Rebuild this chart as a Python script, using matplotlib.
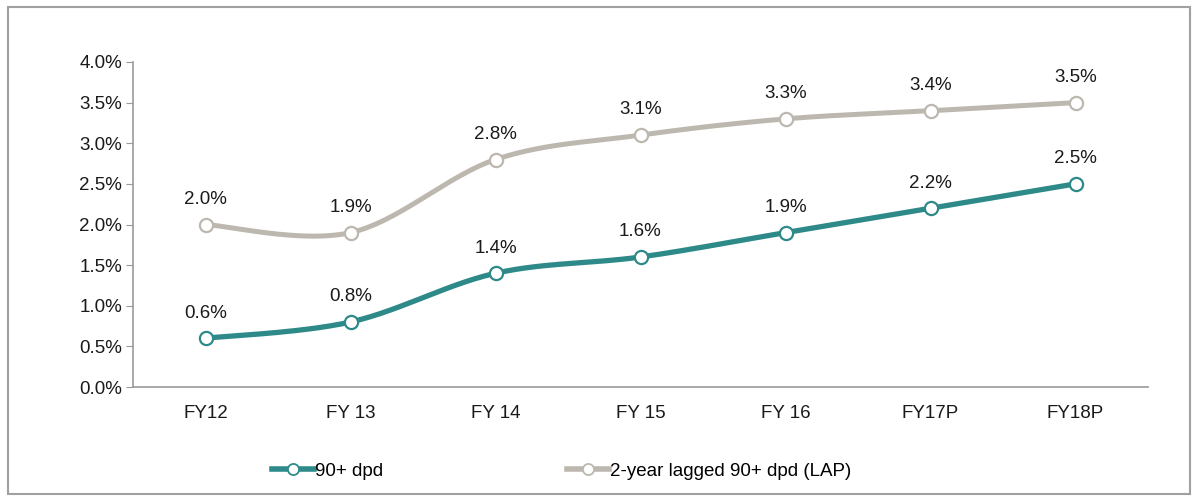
import numpy as np
import matplotlib
matplotlib.use("Agg")
import matplotlib.pyplot as plt
from matplotlib.patches import Rectangle
from matplotlib.lines import Line2D

plt.rcParams['font.family'] = ['Liberation Sans', 'DejaVu Sans']

categories = ["FY12", "FY 13", "FY 14", "FY 15", "FY 16", "FY17P", "FY18P"]
dpd90 = [0.6, 0.8, 1.4, 1.6, 1.9, 2.2, 2.5]
lagged = [2.0, 1.9, 2.8, 3.1, 3.3, 3.4, 3.5]
yticks = [0.0, 0.5, 1.0, 1.5, 2.0, 2.5, 3.0, 3.5, 4.0]

TEAL = "#2E8A89"
GREY = "#BDB8AF"
FS = 13.5


def smooth(xs, ys, n=30):
    xs = np.asarray(xs, float)
    ys = np.asarray(ys, float)
    px, py = [], []
    N = len(xs)
    for i in range(N - 1):
        p0 = np.array([xs[max(i - 1, 0)], ys[max(i - 1, 0)]])
        p1 = np.array([xs[i], ys[i]])
        p2 = np.array([xs[i + 1], ys[i + 1]])
        p3 = np.array([xs[min(i + 2, N - 1)], ys[min(i + 2, N - 1)]])
        c1 = p1 + (p2 - p0) / 6.0
        c2 = p2 - (p3 - p1) / 6.0
        t = np.linspace(0, 1, n)[:, None]
        pts = ((1 - t) ** 3) * p1 + 3 * ((1 - t) ** 2) * t * c1 + 3 * (1 - t) * t ** 2 * c2 + t ** 3 * p2
        px.extend(pts[:, 0])
        py.extend(pts[:, 1])
    return px, py


fig = plt.figure(figsize=(11.96, 4.96), dpi=100)
ax = fig.add_axes([133 / 1196, 1 - 387 / 496, (1148 - 133) / 1196, (387 - 62) / 496])

x = np.arange(len(categories))
for vals, col, lw in [(lagged, GREY, 3.6), (dpd90, TEAL, 3.8)]:
    sx, sy = smooth(x, vals)
    ax.plot(sx, sy, color=col, lw=lw, solid_capstyle='round', zorder=2)
    ax.plot(x, vals, ls='none', marker='o', ms=9.5, mfc='white', mec=col, mew=1.6, zorder=3)
    for xi, v in zip(x, vals):
        ax.annotate(f"{v:.1f}%", (xi, v), xytext=(0, 12), textcoords='offset points',
                    ha='center', va='bottom', fontsize=FS, color='#1a1a1a')

ax.set_xlim(-0.5, len(categories) - 0.5)
ax.set_ylim(0, 4.0)
ax.set_yticks(yticks)
ax.set_yticklabels([f"{v:.1f}%" for v in yticks], fontsize=FS, color='#1a1a1a')
ax.set_xticks(x)
ax.set_xticklabels(categories, fontsize=FS, color='#1a1a1a')
ax.tick_params(axis='x', length=0, pad=13)
ax.tick_params(axis='y', length=5, color='#999999', direction='out', pad=3)
for s in ['top', 'right']:
    ax.spines[s].set_visible(False)
for s in ['left', 'bottom']:
    ax.spines[s].set_color('#999999')
    ax.spines[s].set_linewidth(1.2)

labels = ["90+ dpd", "2-year lagged 90+ dpd (LAP)"]
for col, lab, x0 in [(TEAL, labels[0], 263), (GREY, labels[1], 558)]:
    h = Line2D([], [], color=col, lw=4.0, marker='o', ms=8, mfc='white', mec=col, mew=1.3)
    leg = fig.legend([h], [lab], loc='center left',
                     bbox_to_anchor=((x0 - 0.4 * FS * 100 / 72) / 1196, 1 - 471 / 496),
                     frameon=False, fontsize=FS, handlelength=2.2, handletextpad=0.05,
                     borderpad=0.4)

fig.add_artist(Rectangle((8 / 1196, 2 / 496), (1190 - 8) / 1196, (489 - 2) / 496,
                         transform=fig.transFigure, fill=False, ec='#A0A0A0', lw=1.5))

fig.savefig("out.png", dpi=100, facecolor='white')
